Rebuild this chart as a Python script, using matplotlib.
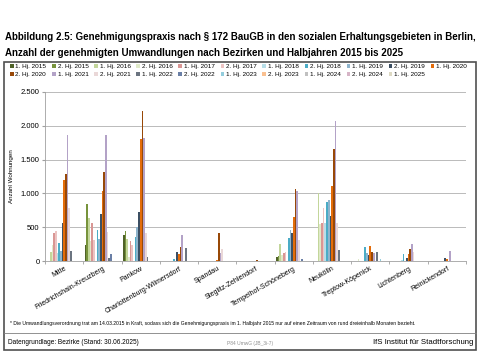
import numpy as np
import matplotlib
matplotlib.use('Agg')
import matplotlib.pyplot as plt
from matplotlib.patches import Rectangle
from matplotlib.lines import Line2D
from matplotlib.ticker import FuncFormatter

plt.rcParams['font.family'] = ['Liberation Sans', 'DejaVu Sans']

# half-year series (legend order)
halbjahre = ['1. Hj. 2015', '2. Hj. 2015', '1. Hj. 2016', '2. Hj. 2016', '1. Hj. 2017',
             '2. Hj. 2017', '1. Hj. 2018', '2. Hj. 2018', '1. Hj. 2019', '2. Hj. 2019',
             '1. Hj. 2020', '2. Hj. 2020', '1. Hj. 2021', '2. Hj. 2021', '1. Hj. 2022',
             '2. Hj. 2022', '1. Hj. 2023', '2. Hj. 2023', '1. Hj. 2024', '2. Hj. 2024',
             '1. Hj. 2025']
farben = ['#4f6228', '#77933c', '#c3d69b', '#dfe9c8', '#d99694', '#ecc4c3',
          '#b7dee8', '#4bacc6', '#8fb4cc', '#3c4f63', '#e46c0a', '#984807',
          '#b3a2c7', '#ead8d8', '#6b7480', '#6a7fa6', '#93cddd', '#fac090',
          '#c0c0c0', '#d6b4c6', '#ddd9c3']

bezirke = ['Mitte', 'Friedrichshain-Kreuzberg', 'Pankow', 'Charlottenburg-Wilmersdorf',
           'Spandau', 'Steglitz-Zehlendorf', 'Tempelhof-Schöneberg', 'Neukölln',
           'Treptow-Köpenick', 'Lichtenberg', 'Reinickendorf']

# values per district, one per half-year
mitte = [0, 0, 130, 240, 410, 440, 120, 270, 150, 560, 1200, 1290, 1870, 790, 150, 0, 0, 0, 0, 0, 0]
fk = [230, 850, 640, 300, 560, 310, 0, 460, 330, 700, 1040, 1310, 1870, 430, 40, 110, 0, 0, 0, 0, 0]
pankow = [380, 450, 330, 60, 290, 230, 0, 360, 500, 730, 1800, 2220, 1820, 410, 60, 0, 0, 0, 0, 0, 0]
cw = [0, 0, 0, 0, 0, 0, 0, 30, 0, 130, 100, 210, 380, 0, 190, 0, 0, 0, 0, 0, 0]
spandau = [0, 0, 0, 0, 0, 0, 0, 0, 0, 0, 10, 410, 120, 180, 0, 0, 0, 0, 0, 0, 0]
sz = [0, 0, 0, 0, 0, 0, 0, 0, 0, 0, 3, 8, 0, 0, 0, 0, 0, 0, 0, 0, 0]
ts = [64, 74, 250, 90, 113, 137, 0, 333, 456, 417, 650, 1060, 1040, 310, 0, 25, 0, 0, 0, 0, 0]
neukoelln = [0, 0, 1010, 540, 560, 780, 560, 880, 900, 660, 1110, 1660, 2070, 560, 170, 0, 0, 0, 0, 0, 0]
tk = [0, 0, 0, 25, 0, 0, 0, 200, 113, 88, 220, 137, 122, 0, 127, 0, 30, 0, 0, 0, 0]
lichtenberg = [0, 0, 0, 0, 0, 0, 20, 110, 0, 50, 100, 180, 245, 140, 0, 0, 0, 0, 0, 0, 0]
reinickendorf = [0, 0, 0, 0, 0, 0, 0, 0, 0, 50, 25, 0, 150, 0, 0, 0, 0, 0, 0, 0, 0]

werte = np.array([mitte, fk, pankow, cw, spandau, sz, ts, neukoelln, tk, lichtenberg, reinickendorf])


def main():
    fig = plt.figure(figsize=(4.8, 3.6), dpi=100)
    W, H = 480.0, 360.0

    fig.text(5 / W, 1 - 37 / H, 'Abbildung 2.5: Genehmigungspraxis nach § 172 BauGB in den sozialen '
             'Erhaltungsgebieten in Berlin,', fontsize=7, fontweight='bold', va='center')
    fig.text(5 / W, 1 - 53 / H, 'Anzahl der genehmigten Umwandlungen nach Bezirken und Halbjahren '
             '2015 bis 2025', fontsize=7, fontweight='bold', va='center')

    # frame around the chart
    fig.patches.append(Rectangle((4 / W, 1 - 350 / H), 472 / W, 288 / H, transform=fig.transFigure,
                                 fill=False, edgecolor='#505050', linewidth=1.2))
    fig.lines.append(Line2D([4 / W, 476 / W], [1 - 333 / H, 1 - 333 / H], transform=fig.transFigure,
                            color='#808080', linewidth=0.6))

    ax = fig.add_axes([45 / W, 1 - 261 / H, 421 / W, 169 / H])
    x = np.arange(len(bezirke))
    n = len(halbjahre)
    w = 0.044
    handles = []
    for i in range(n):
        b = ax.bar(x + (i - (n - 1) / 2) * w, werte[:, i], width=w, color=farben[i],
                   label=halbjahre[i], linewidth=0)
        handles.append(b)

    ax.set_ylim(0, 2500)
    ax.set_xlim(-0.5, len(bezirke) - 0.5)
    ax.set_yticks(np.arange(0, 2501, 500))
    ax.yaxis.set_major_formatter(FuncFormatter(lambda v, p: f'{int(v):,}'.replace(',', '.')))
    ax.grid(axis='y', color='#b0b0b0', linewidth=0.6)
    ax.set_axisbelow(True)
    for s in ['top', 'right']:
        ax.spines[s].set_visible(False)
    ax.spines['left'].set_color('#a0a0a0')
    ax.spines['bottom'].set_color('#a0a0a0')
    ax.spines['left'].set_linewidth(0.6)
    ax.spines['bottom'].set_linewidth(0.6)
    ax.tick_params(axis='y', labelsize=5.5, length=2, color='#a0a0a0', pad=2)
    ax.set_xticks(x)
    ax.set_xticklabels(bezirke, rotation=30, ha='right', rotation_mode='anchor', fontsize=5)
    ax.tick_params(axis='x', length=0, pad=3)
    ax.set_xticks(np.arange(len(bezirke) + 1) - 0.5, minor=True)
    ax.tick_params(axis='x', which='minor', length=2, color='#a0a0a0')
    ax.set_ylabel('Anzahl Wohnungen', fontsize=4.5, labelpad=5)

    # legend in row order: 11 on the first row, 10 on the second
    order = []
    for c in range(10):
        order += [c, 11 + c]
    order.append(10)
    fig.legend([handles[k] for k in order], [halbjahre[k] for k in order], ncol=11,
               loc='upper left', bbox_to_anchor=(10 / W, 1 - 64 / H), frameon=False,
               fontsize=4.6, handlelength=0.55, handleheight=0.55, handletextpad=0.3,
               columnspacing=0.9, labelspacing=0.45, borderpad=0, borderaxespad=0)

    fig.text(10 / W, 1 - 324 / H, '* Die Umwandlungsverordnung trat am 14.03.2015 in Kraft, sodass sich '
             'die Genehmigungspraxis im 1. Halbjahr 2015 nur auf einen Zeitraum von rund dreieinhalb '
             'Monaten bezieht.', fontsize=3.65, va='center')
    fig.text(8 / W, 1 - 343 / H, 'Datengrundlage: Bezirke (Stand: 30.06.2025)', fontsize=4.7, va='center')
    fig.text(250 / W, 1 - 343 / H, 'P84 UmwG (JB_3i-7)', fontsize=3.5, va='center', ha='center',
             color='#909090')
    fig.text(473 / W, 1 - 343 / H, 'IfS Institut für Stadtforschung', fontsize=5.6, va='center', ha='right')

    fig.savefig('out.png', dpi=100)


if __name__ == '__main__':
    main()
